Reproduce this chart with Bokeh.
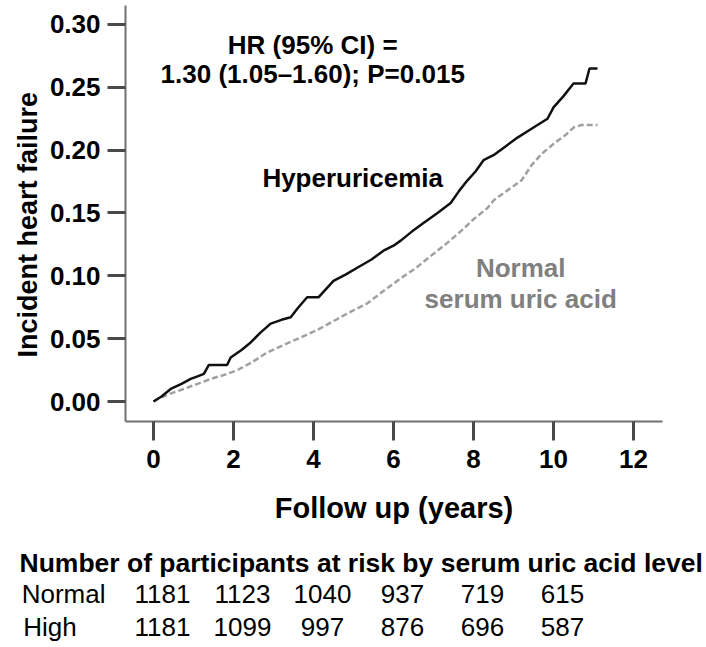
from bokeh.plotting import figure
from bokeh.models import Range1d, FactorRange, FixedTicker, NumeralTickFormatter, Label, Title
from bokeh.layouts import column
from bokeh.embed import file_html
from bokeh.resources import INLINE
from bokeh.core.properties import value

# ---- data ----
hyper_t = [0.0, 0.2, 0.43, 0.7, 0.93, 1.1, 1.26, 1.38, 1.84, 1.93, 2.2, 2.43, 2.68, 2.93, 3.2, 3.43,
           3.6, 3.84, 4.13, 4.3, 4.5, 4.8, 5.18, 5.45, 5.75, 6.0, 6.18, 6.45, 6.75, 7.1, 7.43, 7.65,
           7.85, 8.05, 8.25, 8.5, 8.8, 9.1, 9.5, 9.85, 10.0, 10.25, 10.5, 10.8, 10.9, 11.1]
hyper_v = [0.0, 0.004, 0.010, 0.014, 0.018, 0.020, 0.022, 0.029, 0.029, 0.035, 0.041, 0.047, 0.055,
           0.062, 0.065, 0.067, 0.074, 0.083, 0.083, 0.089, 0.096, 0.101, 0.108, 0.113, 0.120, 0.124,
           0.128, 0.135, 0.142, 0.150, 0.158, 0.168, 0.176, 0.183, 0.192, 0.196, 0.203, 0.210, 0.218,
           0.225, 0.234, 0.243, 0.253, 0.253, 0.265, 0.265]

normal_t = [0.0, 0.1, 0.4, 0.75, 1.1, 1.43, 1.75, 2.1, 2.45, 2.84, 3.25, 3.68, 4.1, 4.5, 4.9, 5.34,
            5.75, 6.18, 6.55, 6.9, 7.3, 7.7, 8.0, 8.35, 8.5, 8.85, 9.2, 9.45, 9.7, 10.0, 10.3, 10.5,
            10.7, 11.1]
normal_v = [0.0, 0.002, 0.006, 0.010, 0.014, 0.018, 0.021, 0.025, 0.031, 0.039, 0.045, 0.051, 0.057,
            0.064, 0.071, 0.078, 0.088, 0.098, 0.106, 0.115, 0.125, 0.136, 0.145, 0.154, 0.160, 0.168,
            0.176, 0.188, 0.197, 0.205, 0.212, 0.218, 0.220, 0.220]

x_ticks = [0, 2, 4, 6, 8, 10, 12]
y_ticks = [0.0, 0.05, 0.10, 0.15, 0.20, 0.25, 0.30]

risk_times = [0, 2, 4, 6, 8, 10]
risk_normal = [1181, 1123, 1040, 937, 719, 615]
risk_high = [1181, 1099, 997, 876, 696, 587]
row_names = ["Normal", "High"]
table_title = "Number of participants at risk by serum uric acid level"

FONT = "Liberation Sans"
XR = (-0.7, 12.725)
W = 704

# ---- main plot ----
p = figure(width=W, height=545, output_backend="svg", toolbar_location=None,
           x_range=Range1d(*XR), y_range=Range1d(-0.0159, 0.3151),
           min_border_left=125, min_border_right=W - 662, min_border_top=5, min_border_bottom=124)
p.outline_line_color = None
p.xgrid.visible = False
p.ygrid.visible = False

for ax in (p.xaxis[0], p.yaxis[0]):
    ax.axis_line_color = "#707070"
    ax.axis_line_width = 2
    ax.major_tick_line_color = "#4a4a4a"
    ax.major_tick_line_width = 3
    ax.major_tick_in = 0
    ax.minor_tick_line_color = None
    ax.major_label_text_font = FONT
    ax.major_label_text_font_style = "bold"
    ax.major_label_text_font_size = "26px"
    ax.major_label_text_color = "black"
    ax.axis_label_text_font = FONT
    ax.axis_label_text_font_style = "bold"
    ax.axis_label_text_color = "black"

p.xaxis.ticker = FixedTicker(ticks=x_ticks)
p.yaxis.ticker = FixedTicker(ticks=y_ticks)
p.yaxis.formatter = NumeralTickFormatter(format="0.00")
p.xaxis.major_tick_out = 19
p.yaxis.major_tick_out = 18
p.xaxis.major_label_standoff = 9
p.yaxis.major_label_standoff = 7
p.xaxis.axis_label = "Follow up (years)"
p.xaxis.axis_label_text_font_size = "29px"
p.xaxis.axis_label_standoff = 21

# y-axis title as a left-side Title so it can be nudged to the reference position
p.add_layout(Title(text="Incident heart failure", text_font=FONT, text_font_size="27px",
                   text_font_style="bold", text_color="black", align="left",
                   offset=64, standoff=8), "left")

p.line(normal_t, normal_v, line_color="#a0a0a0", line_width=2.5, line_dash="6 3")
p.line(hyper_t, hyper_v, line_color="#111111", line_width=2.5)

def add_label(txt, x, y, color="black"):
    p.add_layout(Label(x=x, y=y, text=txt, text_font=FONT, text_font_style="bold",
                       text_font_size="26px", text_color=color, text_align="center",
                       text_baseline="alphabetic"))

add_label("HR (95% CI) =", 3.98, 0.2833)
add_label("1.30 (1.05\u20131.60); P=0.015", 3.98, 0.2602)
add_label("Hyperuricemia", 4.98, 0.1775)
add_label("Normal", 9.18, 0.1060, "#808080")
add_label("serum uric acid", 9.18, 0.0812, "#808080")

# ---- at-risk table ----
# row labels are right-aligned by the axis; pad the shorter one so both start at the same x
pad = "\u00a0" * 4 + "\u200b"
row_factor = {row_names[0]: row_names[0], row_names[1]: row_names[1] + pad}
t = figure(width=W, height=100, output_backend="svg", toolbar_location=None,
           x_range=Range1d(*XR),
           y_range=FactorRange(factors=[row_factor[row_names[1]], row_factor[row_names[0]]],
                               range_padding=0),
           min_border_left=125, min_border_right=W - 662, min_border_top=0, min_border_bottom=2,
           x_axis_location=None, title=table_title)
t.outline_line_color = None
t.xgrid.visible = False
t.ygrid.visible = False
t.title.text_font = FONT
t.title.text_font_size = "26.5px"
t.title.text_font_style = "bold"
t.title.text_color = "black"
t.title.align = "left"
t.title.offset = -106
t.title.standoff = 0
ya = t.yaxis[0]
ya.axis_line_color = None
ya.major_tick_line_color = None
ya.minor_tick_line_color = None
ya.major_tick_out = 0
ya.major_label_standoff = 20
ya.major_label_text_font = FONT
ya.major_label_text_font_size = "26px"
ya.major_label_text_color = "black"

t.text(x=risk_times, y=[row_factor[row_names[0]]] * len(risk_times),
       text=[str(n) for n in risk_normal],
       text_font=value(FONT), text_font_size="26px", text_color="black",
       text_align="center", text_baseline="middle", x_offset=9)
t.text(x=risk_times, y=[row_factor[row_names[1]]] * len(risk_times),
       text=[str(n) for n in risk_high],
       text_font=value(FONT), text_font_size="26px", text_color="black",
       text_align="center", text_baseline="middle", x_offset=9)

layout = column(p, t, spacing=0)
open("out.html", "w").write(file_html(layout, INLINE))
